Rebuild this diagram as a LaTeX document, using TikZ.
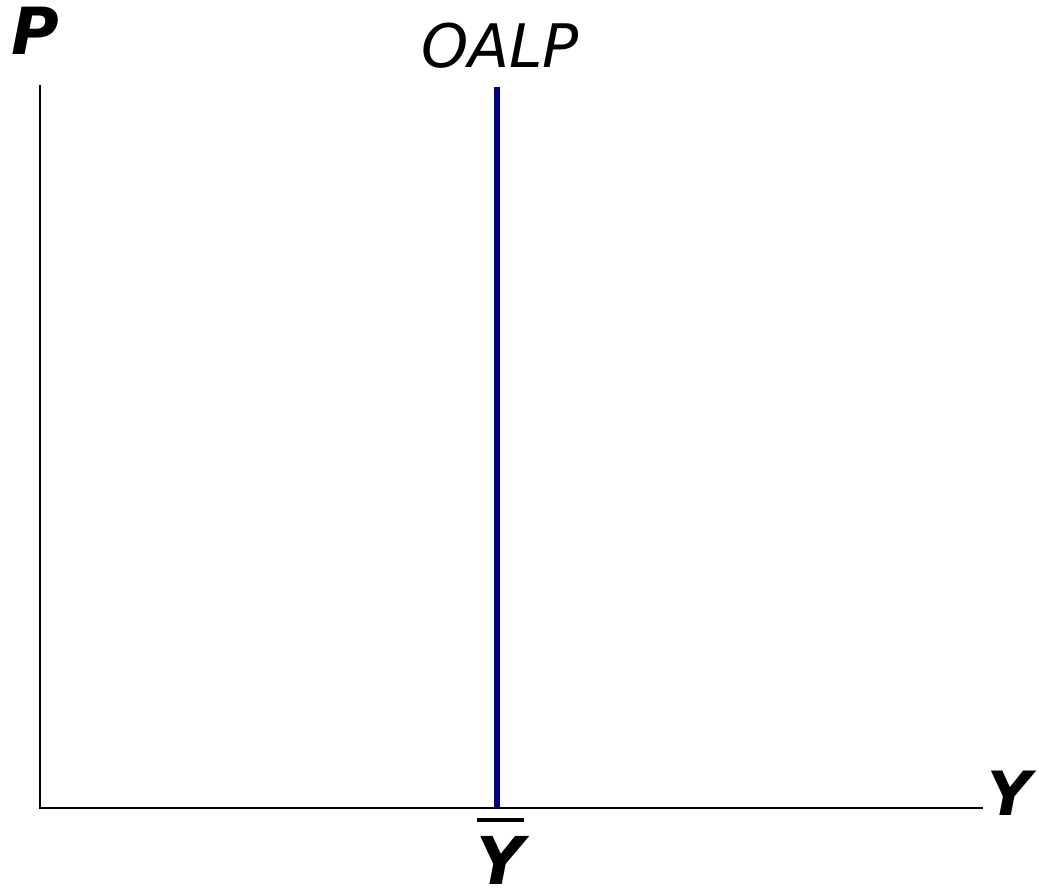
\documentclass[tikz,border=0pt]{standalone}
\usepackage{fontspec}
\setmainfont{DejaVu Sans}
\definecolor{curveblue}{RGB}{0,0,128}
\begin{document}
\begin{tikzpicture}[x=1pt,y=-1pt,
  axis/.style={line width=2.5pt,black},
  curve/.style={line width=6pt,curveblue},
  axlabel/.style={inner sep=0pt,anchor=base},
  cvlabel/.style={inner sep=0pt,anchor=base}]
\useasboundingbox (0,0) rectangle (1039,890);
\coordinate (o) at (40,808);
\coordinate (ytop) at (40,85);
\coordinate (xend) at (983,808);
\coordinate (ctop) at (497,87);
\coordinate (cbot) at (497,808);
\draw[axis] (ytop) -- (o) -- (xend);
\draw[curve] (ctop) -- (cbot);
\node[axlabel,font=\fontsize{65}{70}\selectfont\bfseries\itshape] (P) at (35,55) {P};
\node[cvlabel,font=\fontsize{60}{66}\selectfont\itshape] (oalp) at (500,68) {OALP};
\node[axlabel,font=\fontsize{61}{66}\selectfont\bfseries\itshape] (Y) at (1010,815) {Y};
\node[axlabel,font=\fontsize{66}{72}\selectfont\bfseries\itshape] (ybar) at (500,884)
  {\vbox{\offinterlineskip\hbox to 50pt{\hss\rule{47pt}{4pt}\hss}\kern 14pt\hbox to 50pt{\hss Y\hss}}};
\end{tikzpicture}
\end{document}
